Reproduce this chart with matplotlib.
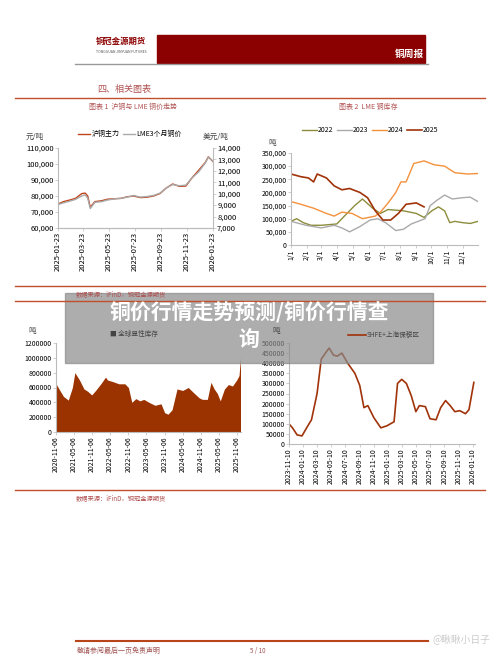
import matplotlib
matplotlib.use('Agg')
import matplotlib.pyplot as plt
import matplotlib.dates as mdates
import numpy as np
import pandas as pd

plt.rcParams['font.family'] = ['Noto Sans CJK SC', 'DejaVu Sans']

# ---- chart 1: SHFE vs LME copper price ----
c1_dates = ['2025-01-23', '2025-02-05', '2025-02-20', '2025-03-05', '2025-03-20', '2025-03-28',
            '2025-04-03', '2025-04-09', '2025-04-20', '2025-05-05', '2025-05-20', '2025-06-05',
            '2025-06-20', '2025-07-05', '2025-07-20', '2025-08-05', '2025-08-20', '2025-09-05',
            '2025-09-20', '2025-10-05', '2025-10-20', '2025-11-05', '2025-11-20', '2025-12-05',
            '2025-12-20', '2026-01-05', '2026-01-12', '2026-01-23']
shfe = [75000, 76500, 77500, 78500, 81500, 81800, 80000, 73000, 76500, 77000, 78000, 78300,
        78500, 79500, 80000, 79000, 79200, 80000, 81500, 85000, 87500, 86000, 86200, 91500,
        96000, 101000, 104500, 101500]
lme = [9050, 9200, 9350, 9500, 9800, 9900, 9600, 8700, 9250, 9300, 9450, 9550,
       9600, 9700, 9850, 9700, 9750, 9850, 10050, 10500, 10800, 10700, 10750, 11400,
       11900, 12700, 13200, 12850]

# ---- chart 2: LME copper stocks by year (day of year) ----
c2_days_22 = [1, 12, 25, 40, 60, 90, 105, 125, 140, 160, 175, 190, 220, 245, 260, 275, 288, 300, 310, 320, 335, 350, 365]
c2_22 = [90000, 100000, 85000, 75000, 75000, 80000, 110000, 150000, 175000, 140000, 120000, 135000, 130000, 120000, 105000, 130000, 145000, 130000, 85000, 90000, 85000, 82000, 90000]
c2_days_23 = [1, 30, 60, 85, 100, 115, 135, 155, 170, 185, 205, 220, 235, 255, 262, 272, 285, 300, 315, 335, 350, 365]
c2_23 = [90000, 75000, 65000, 75000, 65000, 50000, 70000, 95000, 100000, 85000, 55000, 60000, 80000, 95000, 100000, 150000, 170000, 190000, 175000, 180000, 182000, 165000]
c2_days_24 = [1, 20, 45, 70, 85, 100, 120, 140, 165, 175, 190, 205, 215, 225, 240, 260, 280, 300, 320, 345, 365]
c2_24 = [165000, 155000, 140000, 120000, 110000, 125000, 120000, 100000, 110000, 125000, 160000, 200000, 240000, 240000, 310000, 320000, 305000, 300000, 275000, 270000, 272000]
c2_days_25 = [1, 20, 35, 45, 52, 70, 85, 100, 115, 135, 150, 165, 180, 195, 210, 225, 245, 260]
c2_25 = [270000, 260000, 255000, 240000, 270000, 255000, 225000, 210000, 215000, 200000, 180000, 130000, 95000, 95000, 120000, 155000, 160000, 145000]

# ---- chart 3: global visible copper stocks ----
c3_dates = ['2020-11-06', '2020-12-15', '2021-01-20', '2021-03-10', '2021-04-20', '2021-05-15', '2021-07-01',
            '2021-08-15', '2021-09-20', '2021-11-01', '2021-12-10', '2022-02-01', '2022-03-20', '2022-04-10',
            '2022-06-01', '2022-08-01', '2022-10-01', '2022-11-06', '2022-12-10', '2023-01-20', '2023-03-01',
            '2023-04-10', '2023-06-01', '2023-08-01', '2023-10-01', '2023-11-06', '2023-12-10', '2024-01-20',
            '2024-03-10', '2024-05-06', '2024-07-01', '2024-09-01', '2024-10-20', '2024-11-20', '2025-01-10',
            '2025-02-15', '2025-03-20', '2025-04-20', '2025-05-20', '2025-07-01', '2025-08-10', '2025-09-20',
            '2025-11-01', '2025-11-25', '2025-12-10']
c3_vals = [650000, 560000, 480000, 430000, 600000, 800000, 700000, 580000, 550000, 500000, 560000, 650000,
           740000, 700000, 680000, 650000, 650000, 600000, 400000, 450000, 420000, 440000, 400000, 360000,
           380000, 260000, 240000, 300000, 580000, 560000, 600000, 520000, 460000, 440000, 440000, 670000,
           580000, 520000, 420000, 580000, 640000, 620000, 700000, 760000, 1000000]
c3_ticks = ['2020-11-06', '2021-05-06', '2021-11-06', '2022-05-06', '2022-11-06', '2023-05-06',
            '2023-11-06', '2024-05-06', '2024-11-06', '2025-05-06', '2025-11-06']

# ---- chart 4: SHFE + Shanghai bonded stocks ----
c4_dates = ['2023-11-10', '2023-11-25', '2023-12-15', '2024-01-05', '2024-01-25', '2024-02-15', '2024-03-10',
            '2024-03-28', '2024-04-15', '2024-05-01', '2024-05-20', '2024-06-05', '2024-06-25', '2024-07-20',
            '2024-08-20', '2024-09-10', '2024-09-28', '2024-10-15', '2024-11-10', '2024-12-10', '2025-01-05',
            '2025-02-05', '2025-02-20', '2025-03-10', '2025-03-30', '2025-04-20', '2025-05-10', '2025-05-25',
            '2025-06-20', '2025-07-10', '2025-08-05', '2025-08-25', '2025-09-15', '2025-10-05', '2025-10-25',
            '2025-11-15', '2025-12-10', '2025-12-25', '2026-01-15']
c4_vals = [100000, 80000, 45000, 40000, 80000, 120000, 250000, 420000, 450000, 475000, 440000, 435000,
           450000, 400000, 350000, 290000, 180000, 190000, 130000, 80000, 90000, 110000, 300000, 320000,
           300000, 240000, 160000, 190000, 185000, 125000, 120000, 180000, 215000, 190000, 160000,
           165000, 150000, 170000, 305000]

W, H = 500, 657
RED = '#8b0000'
ORANGE = '#c0502a'


def box(x0, y0, x1, y1):
    return [x0 / W, 1 - y1 / H, (x1 - x0) / W, (y1 - y0) / H]


def style(ax, size=5):
    for s in ['top', 'right']:
        ax.spines[s].set_visible(False)
    ax.spines['left'].set_color('#bbbbbb')
    ax.spines['bottom'].set_color('#bbbbbb')
    ax.tick_params(labelsize=size, length=2, width=0.5, color='#bbbbbb', pad=1)


fig = plt.figure(figsize=(5, 6.57), dpi=100)

# header
fig.patches.append(plt.Rectangle((157 / W, 1 - 63 / H), 268 / W, 28 / H, color=RED, transform=fig.transFigure))
fig.add_artist(plt.Line2D([75 / W, 428 / W], [1 - 64 / H] * 2, color='#999999', lw=1))
fig.text(96 / W, 1 - 44 / H, '铜冠金源期货', fontsize=6, color=RED, fontweight='bold')
fig.text(96 / W, 1 - 53 / H, 'TONGGUAN JINYUAN FUTURES', fontsize=2.5, color='#555555')
fig.text(424 / W, 1 - 54 / H, '铜周报', fontsize=7, color='white', fontweight='bold', ha='right', va='center')
fig.text(97 / W, 1 - 89 / H, '四、相关图表', fontsize=6.5, color='#b05050', va='center')
for y in [98, 286, 490]:
    fig.add_artist(plt.Line2D([15 / W, 485 / W], [1 - y / H] * 2, color=ORANGE, lw=1))
fig.text(133 / W, 1 - 107 / H, '图表 1  沪铜与 LME 铜价走势', fontsize=5, color='#b05050', ha='center', va='center')
fig.text(368 / W, 1 - 107 / H, '图表 2  LME 铜库存', fontsize=5, color='#b05050', ha='center', va='center')

# chart 1
ax1 = fig.add_axes(box(58, 148, 213, 228))
d1 = pd.to_datetime(c1_dates)
ax1.plot(d1, shfe, color='#c0441a', lw=1, label='沪铜主力')
ax1.set_ylim(60000, 110000)
ax1.set_yticks(range(60000, 110001, 10000))
ax1.yaxis.set_major_formatter(matplotlib.ticker.StrMethodFormatter('{x:,.0f}'))
ax1.set_xlim(pd.Timestamp('2025-01-23'), pd.Timestamp('2026-01-23'))
ax1.set_xticks(pd.to_datetime(['2025-01-23', '2025-03-23', '2025-05-23', '2025-07-23', '2025-09-23',
                               '2025-11-23', '2026-01-23']))
ax1.xaxis.set_major_formatter(mdates.DateFormatter('%Y-%m-%d'))
plt.setp(ax1.get_xticklabels(), rotation=90)
style(ax1, 5.5)
ax1r = ax1.twinx()
ax1r.plot(d1, lme, color='#aaaaaa', lw=1, label='LME3个月铜价')
ax1r.set_ylim(7000, 14000)
ax1r.set_yticks(range(7000, 14001, 1000))
ax1r.yaxis.set_major_formatter(matplotlib.ticker.StrMethodFormatter('{x:,.0f}'))
style(ax1r, 5.5)
ax1r.spines['right'].set_visible(True)
ax1r.spines['right'].set_color('#bbbbbb')
ax1r.spines['left'].set_visible(False)
fig.text(26 / W, 1 - 137 / H, '元/吨', fontsize=5.5, color='#444444', va='center')
fig.text(203 / W, 1 - 137 / H, '美元/吨', fontsize=5.5, color='#444444', va='center')
fig.legend(handles=[ax1.lines[0], ax1r.lines[0]], loc='center', bbox_to_anchor=(130 / W, 1 - 134 / H),
           ncol=2, frameon=False, fontsize=5, handlelength=1.8, columnspacing=0.4, handletextpad=0.2)

# chart 2
ax2 = fig.add_axes(box(291, 153, 478, 245))
ax2.plot(c2_days_22, c2_22, color='#8c8c3c', lw=1, label='2022')
ax2.plot(c2_days_23, c2_23, color='#aaaaaa', lw=1, label='2023')
ax2.plot(c2_days_24, c2_24, color='#f4913c', lw=1, label='2024')
ax2.plot(c2_days_25, c2_25, color='#a0330a', lw=1.2, label='2025')
ax2.set_xlim(1, 365)
ax2.set_ylim(0, 350000)
ax2.set_yticks(range(0, 350001, 50000))
ax2.yaxis.set_major_formatter(matplotlib.ticker.StrMethodFormatter('{x:,.0f}'))
ax2.set_xticks([1, 32, 60, 91, 121, 152, 182, 213, 244, 274, 305, 335])
ax2.set_xticklabels([f'{m}/1' for m in range(1, 13)], rotation=90)
style(ax2, 5)
fig.text(268 / W, 1 - 143 / H, '吨', fontsize=5.5, color='#444444', va='center')
fig.legend(handles=ax2.lines, loc='center', bbox_to_anchor=(370 / W, 1 - 130 / H), ncol=4, frameon=False,
           fontsize=5, handlelength=2.2, columnspacing=0.5, handletextpad=0.1)

fig.text(76 / W, 1 - 294 / H, '数据来源：iFinD，铜冠金源期货', fontsize=4.5, color='#b05050', va='center')
fig.add_artist(plt.Line2D([15 / W, 485 / W], [1 - 301 / H] * 2, color=ORANGE, lw=1))

# chart 3
ax3 = fig.add_axes(box(56, 343, 241, 432))
d3 = pd.to_datetime(c3_dates)
ax3.fill_between(d3, c3_vals, color='#9a3300', lw=0)
ax3.set_ylim(0, 1200000)
ax3.set_yticks(range(0, 1200001, 200000))
ax3.yaxis.set_major_formatter(matplotlib.ticker.StrMethodFormatter('{x:.0f}'))
ax3.set_xlim(pd.Timestamp('2020-11-06'), pd.Timestamp('2025-12-15'))
ax3.set_xticks(pd.to_datetime(c3_ticks))
ax3.xaxis.set_major_formatter(mdates.DateFormatter('%Y-%m-%d'))
plt.setp(ax3.get_xticklabels(), rotation=90)
style(ax3, 5)
fig.text(28 / W, 1 - 331 / H, '吨', fontsize=5.5, color='#444444', va='center')
fig.text(110 / W, 1 - 334 / H, '■ 全球显性库存', fontsize=4.8, color='#444444', va='center')

# chart 4
ax4 = fig.add_axes(box(289, 343, 475, 444))
d4 = pd.to_datetime(c4_dates)
ax4.plot(d4, c4_vals, color='#a0330a', lw=1.2)
ax4.set_ylim(0, 500000)
ax4.set_yticks(range(0, 500001, 50000))
ax4.set_xlim(pd.Timestamp('2023-11-10'), pd.Timestamp('2026-01-20'))
t4 = pd.date_range('2023-11-01', '2026-01-01', freq='2MS') + pd.Timedelta(days=9)
ax4.set_xticks(t4)
ax4.xaxis.set_major_formatter(mdates.DateFormatter('%Y-%m-%d'))
plt.setp(ax4.get_xticklabels(), rotation=90)
style(ax4, 5)
fig.text(272 / W, 1 - 331 / H, '吨', fontsize=5.5, color='#444444', va='center')
fig.add_artist(plt.Line2D([348 / W, 366 / W], [1 - 335 / H] * 2, color='#a0330a', lw=1.2))
fig.text(367 / W, 1 - 335 / H, 'SHFE+上海保税区', fontsize=4.8, color='#444444', va='center')

fig.text(76 / W, 1 - 498 / H, '数据来源：iFinD，铜冠金源期货', fontsize=4.5, color='#b05050', va='center')

# overlay banner
fig.patches.append(plt.Rectangle((65 / W, 1 - 363 / H), 368 / W, 70 / H, color='#8a8a8a', alpha=0.7,
                                 transform=fig.transFigure))
fig.text(249 / W, 1 - 313 / H, '铜价行情走势预测/铜价行情查', fontsize=15, color='white', fontweight='bold',
         ha='center', va='center')
fig.text(249 / W, 1 - 340 / H, '询', fontsize=15, color='white', fontweight='bold', ha='center', va='center')

# footer
fig.add_artist(plt.Line2D([76 / W, 428 / W], [1 - 641 / H] * 2, color='#b8441a', lw=1.5))
fig.text(77 / W, 1 - 651 / H, '敬请参阅最后一页免责声明', fontsize=5, color='#a05050', style='italic', va='center')
fig.text(250 / W, 1 - 651 / H, '5 / 10', fontsize=4.5, color='#a05050', va='center')
fig.text(490 / W, 1 - 640 / H, '@瞅瞅小日子', fontsize=7, color='#cccccc', ha='right', va='center')

fig.savefig('out.png', dpi=100)
